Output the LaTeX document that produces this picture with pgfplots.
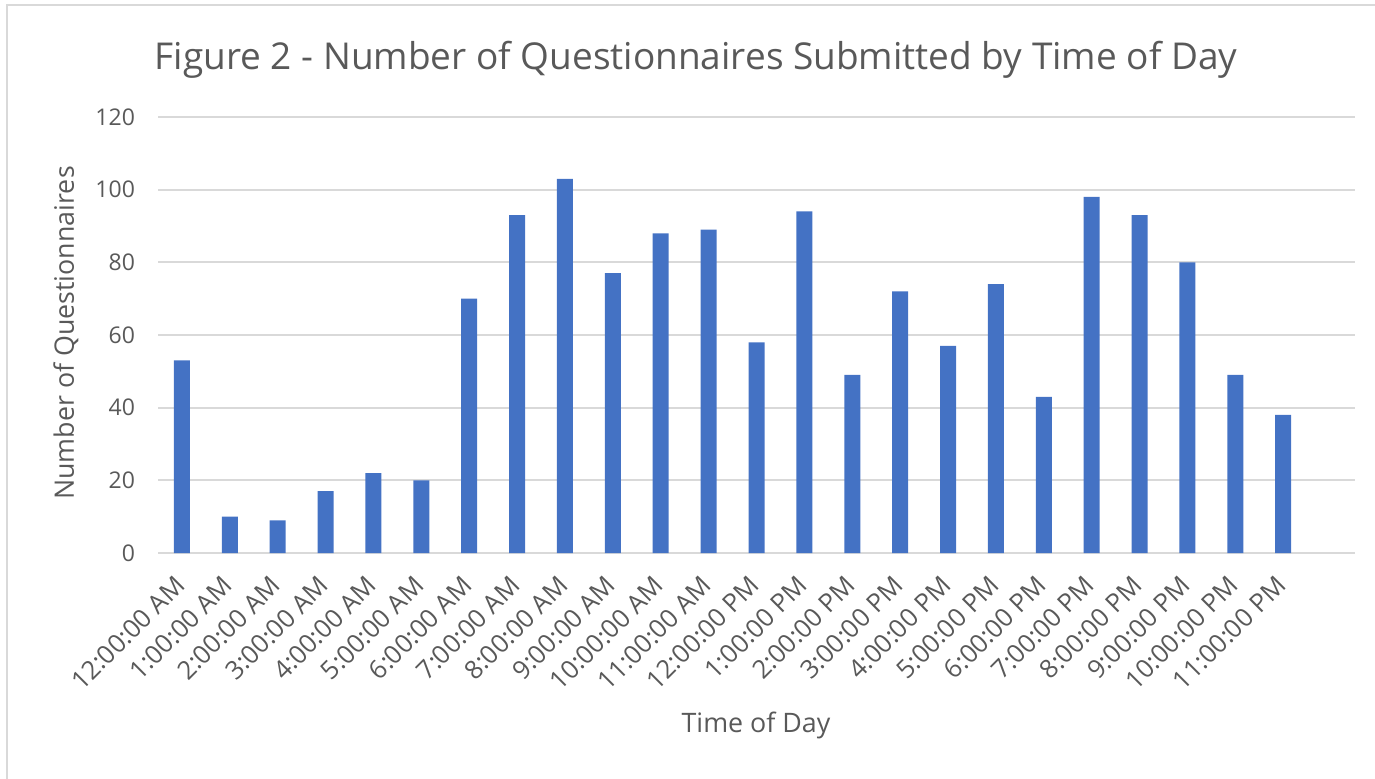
\documentclass[border=0pt]{standalone}
\usepackage{pgfplots}
\pgfplotsset{compat=1.18}
\usepackage{fontspec}
\setmainfont{Open Sans}
\definecolor{barc}{HTML}{4472C4}
\definecolor{txt}{HTML}{595959}
\definecolor{grd}{HTML}{D9D9D9}
\begin{document}
\begin{tikzpicture}
\path[use as bounding box] (0,0) rectangle (687.5pt,389pt);
\draw[grd, line width=1pt] (3.5pt,-5pt) |- (700pt,386.5pt);
\begin{axis}[
  at={(79pt,112.5pt)}, anchor=south west,
  scale only axis, width=598.5pt, height=218pt,
  xmin=-0.5, xmax=24.5, ymin=0, ymax=120,
  enlargelimits=false,
  ytick={0,20,...,120},
  xtick={0,...,23},
  xticklabels={12:00:00 AM,1:00:00 AM,2:00:00 AM,3:00:00 AM,4:00:00 AM,5:00:00 AM,6:00:00 AM,7:00:00 AM,8:00:00 AM,9:00:00 AM,10:00:00 AM,11:00:00 AM,12:00:00 PM,1:00:00 PM,2:00:00 PM,3:00:00 PM,4:00:00 PM,5:00:00 PM,6:00:00 PM,7:00:00 PM,8:00:00 PM,9:00:00 PM,10:00:00 PM,11:00:00 PM},
  ybar, bar width=8pt,
  axis line style={draw=none},
  major tick length=0pt,
  ymajorgrids, grid style={grd, line width=1pt},
  /pgf/number format/assume math mode=true,
  tick label style={text=txt},
  yticklabel style={anchor=east, xshift=-8pt, font=\fontsize{11.5}{13}\selectfont},
  xticklabel style={xshift=1.5pt, yshift=-11.5pt, rotate=45, anchor=east, font=\fontsize{12.8}{14}\selectfont},
  title={Figure 2 - Number of Questionnaires Submitted by Time of Day},
  title style={at={(axis description cs:0.4495,1.103)}, anchor=center, font=\fontsize{18.5}{21}\selectfont, text=txt},
  xlabel={Time of Day},
  xlabel style={at={(axis description cs:0.4996,-0.395)}, anchor=center, font=\fontsize{13.4}{15}\selectfont, text=txt},
  ylabel={Number of Questionnaires},
  ylabel style={at={(axis description cs:-0.0769,0.5046)}, anchor=center, rotate=0, font=\fontsize{13.4}{15}\selectfont, text=txt},
]
\addplot[fill=barc, draw=none] coordinates {
(0,53) (1,10) (2,9) (3,17) (4,22) (5,20) (6,70) (7,93) (8,103) (9,77) (10,88) (11,89)
(12,58) (13,94) (14,49) (15,72) (16,57) (17,74) (18,43) (19,98) (20,93) (21,80) (22,49) (23,38)
};
\end{axis}
\end{tikzpicture}
\end{document}
